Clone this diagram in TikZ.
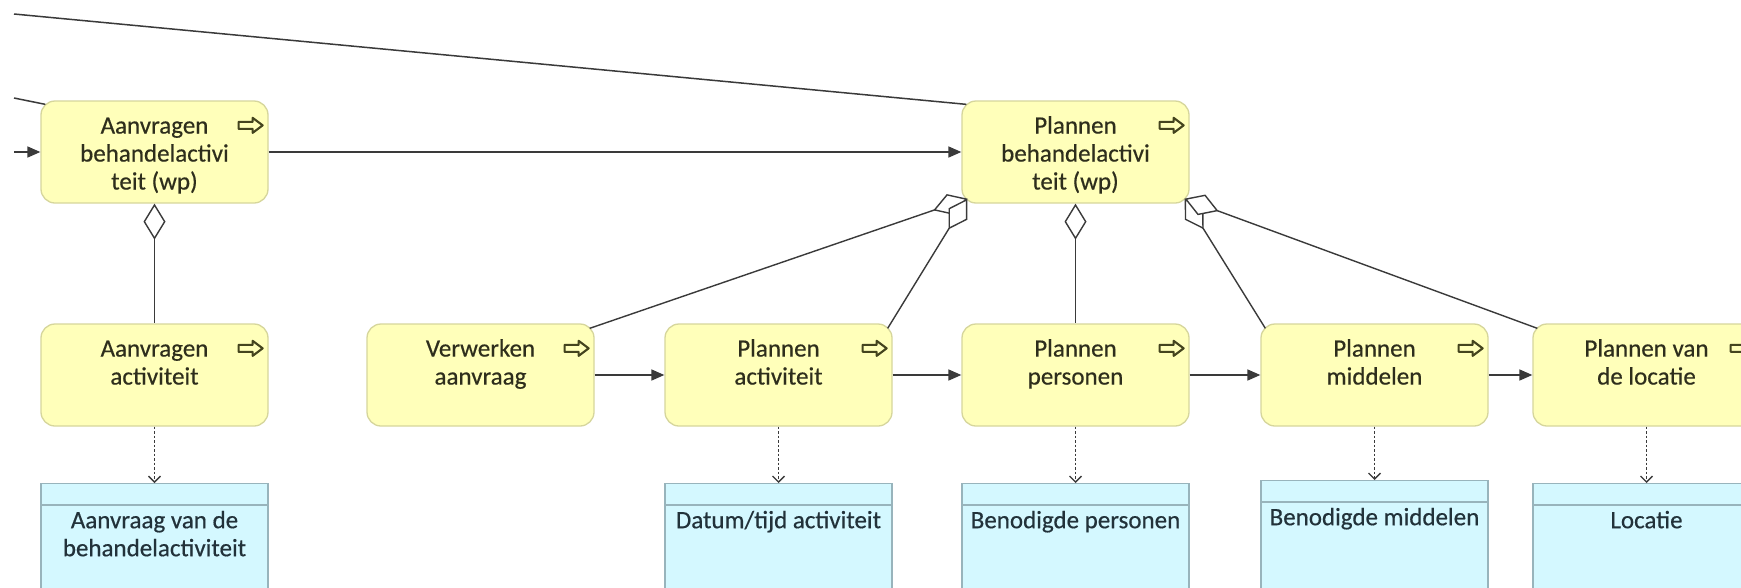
\documentclass[tikz,border=0pt]{standalone}
\usepackage{fontspec}
\setmainfont{Carlito}
\newfontfamily\boxfont{Carlito}[FakeBold=0.45]
\usetikzlibrary{arrows.meta,calc}

\definecolor{procfill}{HTML}{FFFFBA}
\definecolor{procline}{HTML}{D6D69C}
\definecolor{objfill}{HTML}{D4F8FF}
\definecolor{objline}{HTML}{98B4BC}
\definecolor{ln}{HTML}{3A3A3A}
\definecolor{ptxt}{HTML}{2E2E1C}
\definecolor{otxt}{HTML}{22323A}
\definecolor{symc}{HTML}{44441E}

\tikzset{
  procsym/.pic={
    \draw[symc, line width=2.1pt, line join=round, fill=procfill]
      (-12,-3.5) -- (2,-3.5) -- (2,-7.5) -- (12,0) -- (2,7.5) -- (2,3.5) -- (-12,3.5) -- cycle;
  }
}

\begin{document}
\begin{tikzpicture}[x=1pt,y=-1pt,
  proc/.style={draw=procline, fill=procfill, line width=1.3pt, rounded corners=14pt,
               minimum width=227pt, minimum height=102pt, inner sep=0pt},
  obj/.style={draw=objline, fill=objfill, line width=1.2pt,
              minimum width=227pt, minimum height=140pt, inner sep=0pt, anchor=north},
  lbl/.style={anchor=north, align=center, inner sep=0pt,
              font=\boxfont\fontsize{25pt}{28pt}\selectfont},
  plain/.style={draw=ln, line width=1.5pt},
  flow/.style={draw=ln, line width=1.6pt, -{Triangle[length=13pt,width=11pt]}},
  agg/.style={draw=ln, line width=1.4pt, {Diamond[length=36pt,width=22pt,fill=white]}-},
  access/.style={draw=ln, line width=1.4pt, dash pattern=on 2.5pt off 2pt,
                 -{Straight Barb[length=6pt,width=12pt]}},
  hdr/.style={draw=objline, line width=1.2pt}
]
\path[use as bounding box] (0,0) rectangle (1741,587);
\clip (0,0) rectangle (1741,587);
\fill[white] (0,0) rectangle (1741,587);

% processes, top row
\node[proc] (A) at (154.5,152) {};
\node[proc] (P) at (1075.5,152) {};

% processes, bottom row
\node[proc] (AA) at (154.5,375) {};
\node[proc] (VA) at (480.5,375) {};
\node[proc] (PA) at (778.5,375) {};
\node[proc] (PP) at (1075.5,375) {};
\node[proc] (PM) at (1374.5,375) {};
\node[proc] (PL) at (1646.5,375) {};

% process labels
\node[lbl, text=ptxt] (Atx)  at ($(A.north)+(0,15)$)  {\rule{0pt}{18pt}Aanvragen\\behandelactivi\\teit (wp)};
\node[lbl, text=ptxt] (Ptx)  at ($(P.north)+(0,15)$)  {\rule{0pt}{18pt}Plannen\\behandelactivi\\teit (wp)};
\node[lbl, text=ptxt] (AAtx) at ($(AA.north)+(0,15)$) {\rule{0pt}{18pt}Aanvragen\\activiteit};
\node[lbl, text=ptxt] (VAtx) at ($(VA.north)+(0,15)$) {\rule{0pt}{18pt}Verwerken\\aanvraag};
\node[lbl, text=ptxt] (PAtx) at ($(PA.north)+(0,15)$) {\rule{0pt}{18pt}Plannen\\activiteit};
\node[lbl, text=ptxt] (PPtx) at ($(PP.north)+(0,15)$) {\rule{0pt}{18pt}Plannen\\personen};
\node[lbl, text=ptxt] (PMtx) at ($(PM.north)+(0,15)$) {\rule{0pt}{18pt}Plannen\\middelen};
\node[lbl, text=ptxt] (PLtx) at ($(PL.north)+(0,15)$) {\rule{0pt}{18pt}Plannen van\\de locatie};

% process symbols
\foreach \n in {A,P,AA,VA,PA,PP,PM,PL}
  \pic at ($(\n.north east)+(-18,25)$) {procsym};

% data objects
\node[obj] (BA)  at (154.5,483) {};
\node[obj] (BPA) at (778.5,483) {};
\node[obj] (BPP) at (1075.5,483) {};
\node[obj] (BPM) at (1374.5,480) {};
\node[obj] (BPL) at (1646.5,483) {};
\foreach \n in {BA,BPA,BPP,BPM,BPL}
  \draw[hdr] ($(\n.north west)+(0,22)$) -- ($(\n.north east)+(0,22)$);

\node[lbl, text=otxt] (BAtx)  at ($(BA.north)+(0,27)$)  {\rule{0pt}{18pt}Aanvraag van de\\behandelactiviteit};
\node[lbl, text=otxt] (BPAtx) at ($(BPA.north)+(0,27)$) {\rule{0pt}{18pt}Datum/tijd activiteit};
\node[lbl, text=otxt] (BPPtx) at ($(BPP.north)+(0,27)$) {\rule{0pt}{18pt}Benodigde personen};
\node[lbl, text=otxt] (BPMtx) at ($(BPM.north)+(0,27)$) {\rule{0pt}{18pt}Benodigde middelen};
\node[lbl, text=otxt] (BPLtx) at ($(BPL.north)+(0,27)$) {\rule{0pt}{18pt}Locatie};

% loose ends entering from the left
\coordinate (L1) at (14,14);
\coordinate (L2) at (14,98);
\coordinate (L3) at (14,152);
\draw[plain] (L1) -- ($(P.north west)+(5,4)$);
\draw[plain] (L2) -- ($(A.north west)+(5,4)$);
\draw[flow] (L3) -- (A.west);

% triggering flows
\draw[flow] (A.east) -- (P.west);
\draw[flow] (VA.east) -- (PA.west);
\draw[flow] (PA.east) -- (PP.west);
\draw[flow] (PP.east) -- (PM.west);
\draw[flow] (PM.east) -- (PL.west);

% aggregations
\draw[agg] (A.south) -- (AA.north);
\draw[agg] (P.south) -- (PP.north);
\coordinate (Pbl) at ($(P.south west)+(6,-5)$);
\coordinate (Pbr) at ($(P.south east)+(-5,-5)$);
\draw[agg] (Pbl) -- ($(VA.north east)+(-5,5)$);
\draw[agg] (Pbl) -- ($(PA.north east)+(-5,5)$);
\draw[agg] (Pbr) -- ($(PM.north west)+(5,5)$);
\draw[agg] (Pbr) -- ($(PL.north west)+(5,5)$);

% access relations
\draw[access] (AA.south) -- (BA.north);
\draw[access] (PA.south) -- (BPA.north);
\draw[access] (PP.south) -- (BPP.north);
\draw[access] (PM.south) -- (BPM.north);
\draw[access] (PL.south) -- (BPL.north);
\end{tikzpicture}
\end{document}
